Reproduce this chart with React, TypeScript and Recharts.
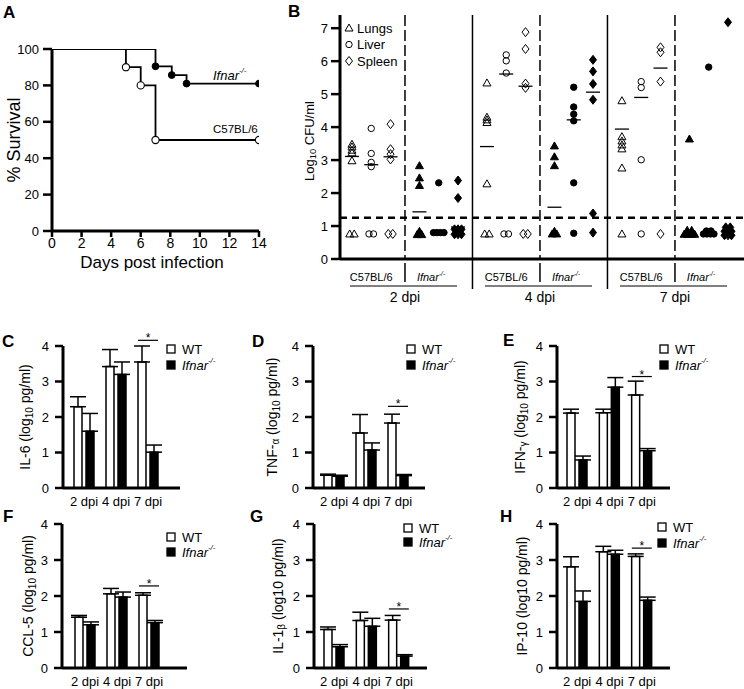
import React from 'react';
import {
  LineChart, Line, XAxis, YAxis, ScatterChart, Scatter, ComposedChart, Bar, ErrorBar, ReferenceLine,
} from 'recharts';

const FONT = '"Liberation Sans", Arial, Helvetica, sans-serif';
const BLACK = '#000';

// ---------------- Panel A : survival ----------------
const ifnarDays = [0, 7, 8.1, 9.1, 14];
const ifnarSurvival = [100, 90.5, 85.7, 81, 81];
const c57Days = [0, 5, 6, 7, 14];
const c57Survival = [100, 90, 80, 50, 50];
const dayTicks = [0, 2, 4, 6, 8, 10, 12, 14];
const survivalTicks = [0, 20, 40, 60, 80, 100];

// ---------------- Panel B : bacterial load ----------------
const cfuDays = ['2 dpi', '4 dpi', '7 dpi'];
const organNames = ['Lungs', 'Liver', 'Spleen'];
// groups: 2dpi C57, 2dpi Ifnar, 4dpi C57, 4dpi Ifnar, 7dpi C57, 7dpi Ifnar
const lungsCFU = [
  [3.48, 3.4, 3.3, 3.22, 2.98, 0.76, 0.76],
  [2.83, 2.46, 2.23, 0.74, 0.74, 0.84],
  [5.34, 4.3, 4.22, 4.14, 2.28, 0.76, 0.76],
  [3.43, 3.1, 2.83, 0.76, 0.76, 0.84],
  [4.8, 3.71, 3.58, 3.46, 3.34, 2.76, 0.76],
  [3.64, 0.75, 0.75, 0.75, 0.75, 0.87, 0.87],
];
const liverCFU = [
  [3.96, 3.2, 2.93, 2.8, 0.76, 0.76],
  [2.31, 0.8, 0.8, 0.8, 0.8],
  [6.19, 6.01, 5.64, 0.76, 0.76],
  [5.21, 4.61, 4.39, 4.19, 2.31, 0.78],
  [5.38, 5.2, 3.01, 0.76],
  [5.82, 0.76, 0.76, 0.76, 0.76, 0.85, 0.85],
];
const spleenCFU = [
  [4.09, 3.33, 3.18, 3.02, 0.76, 0.76],
  [2.38, 1.85, 0.75, 0.75, 0.75, 0.9, 0.9, 0.9],
  [6.88, 6.37, 5.32, 5.19, 0.76, 0.76],
  [6.04, 5.69, 5.31, 4.83, 1.38, 0.8],
  [6.42, 6.27, 5.38, 0.76],
  [7.18, 0.72, 0.72, 0.72, 0.84, 0.84, 0.84, 0.96, 0.96],
];
const lungsMean = [3.11, 1.43, 3.41, 1.57, 3.94, null];
const liverMean = [2.86, null, 5.61, 4.22, 4.9, null];
const spleenMean = [3.1, 0.97, 5.24, 5.06, 5.79, null];
const lodLevel = 1.25;
const cfuTicks = [0, 1, 2, 3, 4, 5, 6, 7];

// ---------------- Panels C-H : cytokines ----------------
const dpiLabels = ['2 dpi', '4 dpi', '7 dpi'];
const cytoTicks = [0, 1, 2, 3, 4];
const sigDay = '7 dpi';

const il6WT = [2.29, 3.42, 3.55];
const il6WTSem = [0.28, 0.48, 0.45];
const il6KO = [1.6, 3.2, 1.01];
const il6KOSem = [0.5, 0.35, 0.2];
const il6Sig = 4.16;

const tnfWT = [0.36, 1.55, 1.83];
const tnfWTSem = [0.03, 0.52, 0.25];
const tnfKO = [0.33, 1.07, 0.35];
const tnfKOSem = [0.03, 0.2, 0.03];
const tnfSig = 2.3;

const ifngWT = [2.11, 2.12, 2.62];
const ifngWTSem = [0.11, 0.1, 0.39];
const ifngKO = [0.79, 2.84, 1.05];
const ifngKOSem = [0.11, 0.27, 0.06];
const ifngSig = 3.14;

const ccl5WT = [1.41, 2.06, 2.02];
const ccl5WTSem = [0.05, 0.15, 0.07];
const ccl5KO = [1.2, 1.97, 1.26];
const ccl5KOSem = [0.08, 0.14, 0.06];
const ccl5Sig = 2.28;

const il1bWT = [1.07, 1.32, 1.33];
const il1bWTSem = [0.07, 0.23, 0.13];
const il1bKO = [0.59, 1.16, 0.33];
const il1bKOSem = [0.06, 0.22, 0.04];
const il1bSig = 1.64;

const ip10WT = [2.81, 3.23, 3.1];
const ip10WTSem = [0.28, 0.15, 0.07];
const ip10KO = [1.85, 3.16, 1.88];
const ip10KOSem = [0.29, 0.11, 0.09];
const ip10Sig = 3.33;

// ---------------- helpers ----------------
const tickStyle = (fs: number) => ({ fill: BLACK, fontSize: fs, fontFamily: FONT });
const axisLine = { stroke: BLACK, strokeWidth: 3 };
const tickLine = { stroke: BLACK, strokeWidth: 2.5 };

function Marker({ organ, x, y, filled }: { organ: number; x: number; y: number; filled: boolean }) {
  const fill = filled ? BLACK : 'none';
  if (organ === 0) {
    return <polygon points={`${x},${y - 4} ${x + 4},${y + 3} ${x - 4},${y + 3}`} fill={fill} stroke={BLACK} strokeWidth={1} />;
  }
  if (organ === 1) {
    return <circle cx={x} cy={y} r={3.2} fill={fill} stroke={BLACK} strokeWidth={1} />;
  }
  return <polygon points={`${x},${y - 4.5} ${x + 3.5},${y} ${x},${y + 4.5} ${x - 3.5},${y}`} fill={fill} stroke={BLACK} strokeWidth={1} />;
}

const GROUP_STEP = 3.5;
const B_MIN = -0.62;
const B_MAX = 20.33;
const B_LEFT = 340;
const B_WIDTH = 404;
const bPx = (p: number) => B_LEFT + ((p - B_MIN) / (B_MAX - B_MIN)) * B_WIDTH;

function buildPoints(cols: number[][], organ: number) {
  const pts: any[] = [];
  cols.forEach((vals, g) => {
    const counts: Record<string, number> = {};
    vals.forEach((v) => { counts[v] = (counts[v] || 0) + 1; });
    const seen: Record<string, number> = {};
    vals.forEach((v) => {
      const j = seen[v] || 0;
      seen[v] = j + 1;
      pts.push({ x: g * GROUP_STEP + organ, y: v, filled: g % 2 === 1, j, n: counts[v], organ });
    });
  });
  return pts;
}
function buildMeans(means: (number | null)[], organ: number) {
  const pts: any[] = [];
  means.forEach((m, g) => { if (m !== null) pts.push({ x: g * GROUP_STEP + organ, y: m }); });
  return pts;
}

const cfuSeries = [lungsCFU, liverCFU, spleenCFU].map((c, i) => buildPoints(c, i));
const meanPoints = [lungsMean, liverMean, spleenMean].flatMap((m, i) => buildMeans(m, i));

const markerShape = (props: any) => {
  const { cx, cy, payload } = props;
  if (cx == null || cy == null || !payload) return <g />;
  const step = payload.n === 2 ? 4.5 : 3.5;
  const x = cx + (payload.j - (payload.n - 1) / 2) * step;
  return <Marker organ={payload.organ} x={x} y={cy} filled={payload.filled} />;
};
const meanShape = (props: any) => {
  const { cx, cy } = props;
  return <line x1={cx - 7} x2={cx + 7} y1={cy} y2={cy} stroke={BLACK} strokeWidth={1.3} />;
};

const separators = [1, 2, 3, 4, 5].map((i) => ({ x: i * GROUP_STEP - 0.75, solid: i % 2 === 0 }));
const sepShape = (solid: boolean) => (p: any) => {
  const top = Math.min(p.y1, p.y2);
  const bot = Math.max(p.y1, p.y2);
  if (solid) {
    return <line x1={p.x1} x2={p.x1} y1={top} y2={bot + 54} stroke={BLACK} strokeWidth={1.5} />;
  }
  return (
    <g>
      <line x1={p.x1} x2={p.x1} y1={top} y2={bot} stroke={BLACK} strokeWidth={1.5} strokeDasharray="11 4" />
      <line x1={p.x1} x2={p.x1} y1={bot + 4} y2={bot + 23} stroke={BLACK} strokeWidth={1.5} />
    </g>
  );
};

const openDot = (props: any) => {
  const { cx, cy, index } = props;
  if (index === 0) return <g key={`o${index}`} />;
  return <circle key={`o${index}`} cx={cx} cy={cy} r={3.6} fill="#fff" stroke={BLACK} strokeWidth={1.1} />;
};
const filledDot = (props: any) => {
  const { cx, cy, index } = props;
  if (index === 0) return <g key={`f${index}`} />;
  return <circle key={`f${index}`} cx={cx} cy={cy} r={3.4} fill={BLACK} stroke={BLACK} strokeWidth={1} />;
};

const sigShape = (p: any) => {
  const cx = (p.x1 + p.x2) / 2;
  const cy = (p.y1 + p.y2) / 2;
  if (!isFinite(cx) || !isFinite(cy)) return <g />;
  return (
    <g>
      <line x1={cx - 10} x2={cx + 10} y1={cy} y2={cy} stroke={BLACK} strokeWidth={1.2} />
      <text x={cx} y={cy + 2} textAnchor="middle" fontSize={12} fontFamily={FONT} fill={BLACK}>*</text>
    </g>
  );
};

type Rect = { x: number; y: number; w: number; h: number };

const TOPM = 25;
function CytokinePanel({ rect, pad, wt, wtSem, ko, koSem, sig }: {
  rect: Rect; pad: [number, number]; wt: number[]; wtSem: number[]; ko: number[]; koSem: number[]; sig: number;
}) {
  const data = dpiLabels.map((d, i) => ({
    day: d, wt: wt[i], wtErr: [0, wtSem[i]], ko: ko[i], koErr: [0, koSem[i]],
  }));
  return (
    <div style={{ position: 'absolute', left: rect.x - 45, top: rect.y - TOPM }}>
      <ComposedChart width={rect.w + 50} height={rect.h + TOPM + 30} data={data}
        margin={{ top: TOPM, right: 5, bottom: 0, left: 0 }} barGap={4}>
        <XAxis dataKey="day" type="category" padding={{ left: pad[0], right: pad[1] }} tickLine={false}
          axisLine={axisLine} tick={tickStyle(13)} tickMargin={3} height={30} interval={0} />
        <YAxis type="number" domain={[0, 4]} ticks={cytoTicks} width={45} axisLine={axisLine} tickLine={tickLine}
          tickSize={8} tickMargin={6} tick={tickStyle(13)} interval={0} allowDataOverflow />
        <Bar dataKey="wt" barSize={8} fill="#fff" stroke={BLACK} strokeWidth={1.5} isAnimationActive={false}>
          <ErrorBar dataKey="wtErr" width={8} stroke={BLACK} strokeWidth={1.5} direction="y" />
        </Bar>
        <Bar dataKey="ko" barSize={8} fill={BLACK} stroke={BLACK} strokeWidth={1.5} isAnimationActive={false}>
          <ErrorBar dataKey="koErr" width={8} stroke={BLACK} strokeWidth={1.5} direction="y" />
        </Bar>
        <ReferenceLine segment={[{ x: sigDay, y: sig }, { x: sigDay, y: sig }]} ifOverflow="visible" shape={sigShape} />
      </ComposedChart>
    </div>
  );
}

const Ifnar = ({ fs }: { fs: number }) => (
  <>
    <tspan fontStyle="italic">Ifnar</tspan>
    <tspan fontStyle="italic" fontSize={fs * 0.6} dy={-fs * 0.4}>-/-</tspan>
  </>
);

function Legend2({ x, y1, y2 }: { x: number; y1: number; y2: number }) {
  return (
    <g>
      <rect x={x} y={y1 - 4} width={8} height={8} fill="#fff" stroke={BLACK} strokeWidth={1.3} />
      <text x={x + 15} y={y1} dominantBaseline="central" fontSize={13}>WT</text>
      <rect x={x} y={y2 - 4} width={8} height={8} fill={BLACK} stroke={BLACK} strokeWidth={1.3} />
      <text x={x + 15} y={y2} dominantBaseline="central" fontSize={13}><Ifnar fs={13} /></text>
    </g>
  );
}

function RotLabel({ x, y, children, fs = 14 }: { x: number; y: number; children: any; fs?: number }) {
  return (
    <text x={x} y={y} transform={`rotate(-90 ${x} ${y})`} textAnchor="middle" dominantBaseline="central" fontSize={fs}>
      {children}
    </text>
  );
}
const Sub10 = ({ fs }: { fs: number }) => (
  <>
    <tspan fontSize={fs * 0.72} dy={fs * 0.3}>10</tspan>
    <tspan dy={-fs * 0.3}> </tspan>
  </>
);

export default function App() {
  const c57Data = c57Days.map((d, i) => ({ day: d, survival: c57Survival[i] }));
  const ifnarData = ifnarDays.map((d, i) => ({ day: d, survival: ifnarSurvival[i] }));

  const rC: Rect = { x: 63, y: 346, w: 117, h: 142 };
  const rD: Rect = { x: 313, y: 346, w: 112, h: 142 };
  const rE: Rect = { x: 557, y: 346, w: 113, h: 142 };
  const rF: Rect = { x: 62, y: 524, w: 125, h: 144 };
  const rG: Rect = { x: 314, y: 524, w: 113, h: 144 };
  const rH: Rect = { x: 557, y: 524, w: 113, h: 144 };

  return (
    <div style={{ position: 'absolute', left: 0, top: 0, width: 744, height: 689, overflow: 'hidden', background: '#fff', fontFamily: FONT }}>
      {/* Panel A */}
      <div style={{ position: 'absolute', left: 0, top: 39 }}>
        <LineChart width={279} height={222} margin={{ top: 10, right: 20, bottom: 0, left: 7 }}>
          <XAxis type="number" dataKey="day" domain={[0, 14]} ticks={dayTicks} interval={0} axisLine={axisLine}
            tickLine={tickLine} tickSize={6} tickMargin={1} tick={tickStyle(14)} height={30} allowDataOverflow />
          <YAxis type="number" domain={[0, 100]} ticks={survivalTicks} interval={0} width={45} axisLine={axisLine}
            tickLine={tickLine} tickSize={9} tickMargin={4} tick={tickStyle(13)} allowDataOverflow />
          <Line data={c57Data} dataKey="survival" type="stepAfter" stroke={BLACK} strokeWidth={1.8}
            dot={openDot} activeDot={false} isAnimationActive={false} />
          <Line data={ifnarData} dataKey="survival" type="stepAfter" stroke={BLACK} strokeWidth={1.8}
            dot={filledDot} activeDot={false} isAnimationActive={false} />
        </LineChart>
      </div>

      {/* Panel B */}
      <div style={{ position: 'absolute', left: B_LEFT - 45, top: 15 }}>
        <ScatterChart width={45 + B_WIDTH} height={244 + 30} margin={{ top: 0, right: 0, bottom: 0, left: 0 }}>
          <XAxis type="number" dataKey="x" domain={[B_MIN, B_MAX]} tick={false} tickLine={false} axisLine={axisLine}
            height={30} allowDataOverflow />
          <YAxis type="number" dataKey="y" domain={[0, 7.4]} ticks={cfuTicks} interval={0} width={45} axisLine={axisLine}
            tickLine={tickLine} tickSize={9} tickMargin={3} tick={tickStyle(13)} allowDataOverflow />
          <ReferenceLine y={lodLevel} stroke={BLACK} strokeWidth={2.5} strokeDasharray="7 5" />
          {separators.map((s) => (
            <ReferenceLine key={`sep${s.x}`} x={s.x} stroke={BLACK} shape={sepShape(s.solid)} />
          ))}
          {cfuSeries.map((pts, i) => (
            <Scatter key={organNames[i]} name={organNames[i]} data={pts} shape={markerShape} isAnimationActive={false} />
          ))}
          <Scatter name="mean" data={meanPoints} shape={meanShape} isAnimationActive={false} />
        </ScatterChart>
      </div>

      <CytokinePanel rect={rC} pad={[5, 16]} wt={il6WT} wtSem={il6WTSem} ko={il6KO} koSem={il6KOSem} sig={il6Sig} />
      <CytokinePanel rect={rD} pad={[5, 11]} wt={tnfWT} wtSem={tnfWTSem} ko={tnfKO} koSem={tnfKOSem} sig={tnfSig} />
      <CytokinePanel rect={rE} pad={[4, 12]} wt={ifngWT} wtSem={ifngWTSem} ko={ifngKO} koSem={ifngKOSem} sig={ifngSig} />
      <CytokinePanel rect={rF} pad={[7, 22]} wt={ccl5WT} wtSem={ccl5WTSem} ko={ccl5KO} koSem={ccl5KOSem} sig={ccl5Sig} />
      <CytokinePanel rect={rG} pad={[4, 12]} wt={il1bWT} wtSem={il1bWTSem} ko={il1bKO} koSem={il1bKOSem} sig={il1bSig} />
      <CytokinePanel rect={rH} pad={[4, 12]} wt={ip10WT} wtSem={ip10WTSem} ko={ip10KO} koSem={ip10KOSem} sig={ip10Sig} />

      {/* Annotation overlay */}
      <svg width={744} height={689} style={{ position: 'absolute', left: 0, top: 0, pointerEvents: 'none' }}
        fontFamily={FONT} fill={BLACK}>
        <g fontSize={17} fontWeight="bold">
          <text x={3} y={18}>A</text>
          <text x={288} y={17}>B</text>
          <text x={2} y={347}>C</text>
          <text x={252} y={347}>D</text>
          <text x={503} y={346}>E</text>
          <text x={3} y={522}>F</text>
          <text x={250} y={522}>G</text>
          <text x={500} y={522}>H</text>
        </g>

        <RotLabel x={14} y={140} fs={18}>% Survival</RotLabel>
        <text x={152} y={262} textAnchor="middle" dominantBaseline="central" fontSize={17}>Days post infection</text>
        <text x={213} y={75} dominantBaseline="central" fontSize={13}><Ifnar fs={13} /></text>
        <text x={213} y={129} dominantBaseline="central" fontSize={11.5}>C57BL/6</text>

        <RotLabel x={309} y={141} fs={13}>
          <tspan>Log</tspan><Sub10 fs={13} /><tspan>CFU/ml</tspan>
        </RotLabel>
        {organNames.map((o, i) => (
          <g key={o}>
            <Marker organ={i} x={349} y={28 + i * 16.5} filled={false} />
            <text x={357} y={28 + i * 16.5} dominantBaseline="central" fontSize={13}>{o}</text>
          </g>
        ))}
        {cfuDays.map((d, k) => {
          const gC = 2 * k;
          const gI = 2 * k + 1;
          return (
            <g key={d}>
              <text x={bPx(gC * GROUP_STEP + 1)} y={277} textAnchor="middle" dominantBaseline="central" fontSize={11}>C57BL/6</text>
              <text x={bPx(gI * GROUP_STEP + 0.6)} y={277} textAnchor="middle" dominantBaseline="central" fontSize={11}><Ifnar fs={11} /></text>
              <line x1={bPx(gC * GROUP_STEP - 0.1)} x2={bPx(gC * GROUP_STEP + 5.45)} y1={286} y2={286} stroke={BLACK} strokeWidth={1} />
              <text x={bPx(gI * GROUP_STEP - 0.75)} y={297} textAnchor="middle" dominantBaseline="central" fontSize={14}>{d}</text>
            </g>
          );
        })}

        <RotLabel x={25} y={417}><tspan>IL-6 (log</tspan><Sub10 fs={14} /><tspan>pg/ml)</tspan></RotLabel>
        <RotLabel x={272} y={417}><tspan>TNF-</tspan><tspan fontSize={10} dy={3}>α</tspan><tspan dy={-3}> (log</tspan><Sub10 fs={14} /><tspan>pg/ml)</tspan></RotLabel>
        <RotLabel x={520} y={417}><tspan>IFN-</tspan><tspan fontSize={10} dy={3}>γ</tspan><tspan dy={-3}> (log</tspan><Sub10 fs={14} /><tspan>pg/ml)</tspan></RotLabel>
        <RotLabel x={28} y={596}><tspan>CCL-5 (log</tspan><Sub10 fs={14} /><tspan>pg/ml)</tspan></RotLabel>
        <RotLabel x={278} y={596}><tspan>IL-1</tspan><tspan fontSize={10} dy={3}>β</tspan><tspan dy={-3}> (log10 pg/ml)</tspan></RotLabel>
        <RotLabel x={522} y={596}>IP-10 (log10 pg/ml)</RotLabel>

        <Legend2 x={167} y1={349} y2={365} />
        <Legend2 x={407} y1={349} y2={365} />
        <Legend2 x={660} y1={349} y2={365} />
        <Legend2 x={167} y1={537} y2={552} />
        <Legend2 x={404} y1={528} y2={542} />
        <Legend2 x={658} y1={527} y2={543} />
      </svg>
    </div>
  );
}
